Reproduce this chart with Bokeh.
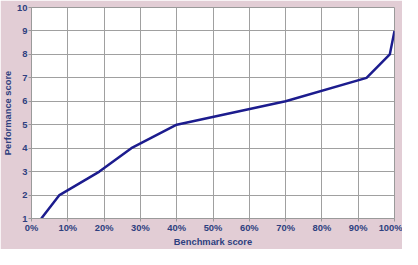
from bokeh.plotting import figure
from bokeh.models import NumeralTickFormatter, FixedTicker, Range1d
from bokeh.embed import file_html
from bokeh.resources import INLINE

# data
benchmark = [0.027, 0.077, 0.187, 0.275, 0.40, 0.70, 0.923, 0.987, 1.00]
performance = [1, 2, 3, 4, 5, 6, 7, 8, 9]
x_ticks = [0.0, 0.1, 0.2, 0.3, 0.4, 0.5, 0.6, 0.7, 0.8, 0.9, 1.0]
y_ticks = [1, 2, 3, 4, 5, 6, 7, 8, 9, 10]

TEXT = "#2e3f7f"
FONT = "Liberation Sans"

p = figure(width=402, height=249, output_backend="svg", toolbar_location=None,
           x_range=Range1d(0, 1), y_range=Range1d(1, 10),
           min_border_left=30, min_border_right=8, min_border_top=7, min_border_bottom=28)
p.background_fill_color = "white"
p.border_fill_color = "#e2cdd5"
p.outline_line_color = "#9a9a9a"

p.line(benchmark, performance, line_color="#1c1c8e", line_width=2.5)

for ax in (p.xaxis[0], p.yaxis[0]):
    ax.axis_line_color = "#9a9a9a"
    ax.major_tick_line_color = "#9a9a9a"
    ax.major_tick_in = 0
    ax.major_tick_out = 3
    ax.minor_tick_line_color = None
    ax.major_label_text_font = FONT
    ax.major_label_text_font_style = "bold"
    ax.major_label_text_font_size = "7pt"
    ax.major_label_text_color = TEXT
    ax.axis_label_text_font = FONT
    ax.axis_label_text_font_style = "bold"
    ax.axis_label_text_font_size = "7pt"
    ax.axis_label_text_color = TEXT
    ax.major_label_standoff = 1
    ax.axis_label_standoff = 1

p.xaxis.ticker = FixedTicker(ticks=x_ticks)
p.xaxis.formatter = NumeralTickFormatter(format="0%")
p.yaxis.ticker = FixedTicker(ticks=y_ticks)
p.xaxis.axis_label = "Benchmark score"
p.yaxis.axis_label = "Performance score"

p.xgrid.grid_line_color = "#a0a0a0"
p.ygrid.grid_line_color = "#a0a0a0"
p.xgrid.ticker = FixedTicker(ticks=x_ticks)
p.ygrid.ticker = FixedTicker(ticks=y_ticks)

open("out.html", "w").write(file_html(p, INLINE))
